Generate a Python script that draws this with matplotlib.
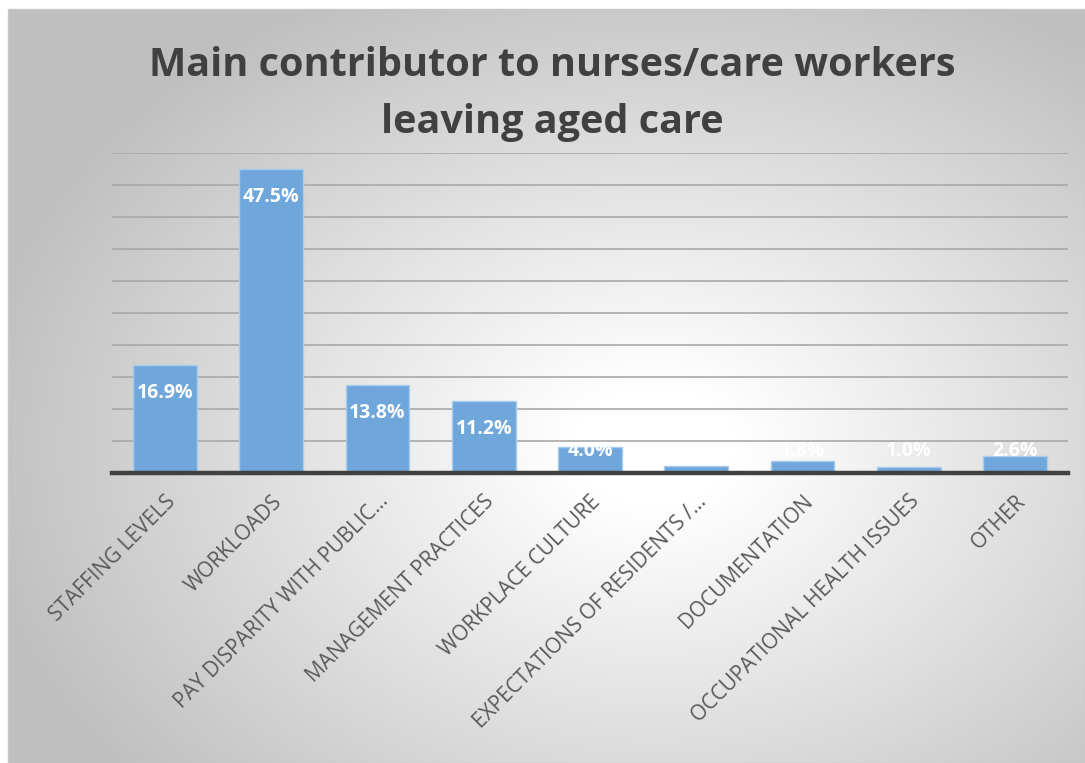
import numpy as np
import matplotlib
matplotlib.use("Agg")
import matplotlib.pyplot as plt
from matplotlib.patches import Rectangle

categories = [
    "STAFFING LEVELS",
    "WORKLOADS",
    "PAY DISPARITY WITH PUBLIC…",
    "MANAGEMENT PRACTICES",
    "WORKPLACE CULTURE",
    "EXPECTATIONS OF RESIDENTS /…",
    "DOCUMENTATION",
    "OCCUPATIONAL HEALTH ISSUES",
    "OTHER",
]
shares = [16.9, 47.5, 13.8, 11.2, 4.0, 1.1, 1.8, 1.0, 2.6]
title = "Main contributor to nurses/care workers\nleaving aged care"

W, H, DPI = 1085, 763, 100
fig = plt.figure(figsize=(W / DPI, H / DPI), dpi=DPI)
fig.patch.set_facecolor("white")

# chart area with a radial white-to-grey fill
bx0, by1 = 8 / W, 1 - 9 / H
bg = fig.add_axes([bx0, 0, 1 - bx0, by1], zorder=0)
nx, ny = 400, 300
xs = np.linspace(0, 1, nx)
ys = np.linspace(0, 1, ny)
X, Y = np.meshgrid(xs, ys)
cx, cy = 0.60, 0.58   # cy measured from the top edge
d = np.sqrt(((X - cx) / 0.64) ** 2 + ((Y - cy) / 0.68) ** 2)
d = np.clip((d - 0.12) / 0.88, 0, 1)
g = 1.0 - 0.25 * d
img = np.dstack([g, g, g])
bg.imshow(img, extent=[0, 1, 0, 1], origin="upper", aspect="auto", interpolation="bilinear")
bg.set_xlim(0, 1)
bg.set_ylim(0, 1)
bg.axis("off")
fig.patches.append(Rectangle((bx0, 0), 1 - bx0, by1, transform=fig.transFigure,
                             fill=False, edgecolor="#c8c8c8", lw=1, zorder=1))

ax = fig.add_axes([112 / W, 1 - 473 / H, (1068 - 112) / W, (473 - 153) / H], zorder=2)
ax.patch.set_visible(False)
x = np.arange(len(categories))
ax.bar(x, shares, width=0.6, color="#6fa7db", edgecolor="#a9cbec", linewidth=1, zorder=3)
ax.set_xlim(-0.5, len(categories) - 0.5)
ax.set_ylim(0, 50)
ax.set_yticks(np.arange(0, 51, 5))
ax.yaxis.grid(True, color="#a8a8a8", lw=1.2, zorder=1)
ax.set_axisbelow(True)
ax.tick_params(axis="y", left=False, labelleft=False)
ax.tick_params(axis="x", length=0, pad=13)
for s in ["top", "right", "left"]:
    ax.spines[s].set_visible(False)
ax.spines["bottom"].set_color("#404040")
ax.spines["bottom"].set_linewidth(3.2)
ax.spines["bottom"].set_zorder(4)

ax.set_xticks(x)
ax.set_xticklabels(categories, rotation=45, ha="right", va="top", rotation_mode="anchor",
                   fontsize=15, color="#595959", family="Open Sans")

for xi, v in zip(x, shares):
    ax.text(xi, max(v - 5.17, 2.66), f"{v:.1f}%", ha="center", va="baseline",
            color="white", fontsize=14, fontweight="bold", family="Open Sans", zorder=5)

fig.text(0.509, 1 - 94.5 / H, title, ha="center", va="center", fontsize=28.5,
         fontweight="bold", color="#404040", family="Open Sans", linespacing=1.6)

fig.savefig("out.png", dpi=DPI)
